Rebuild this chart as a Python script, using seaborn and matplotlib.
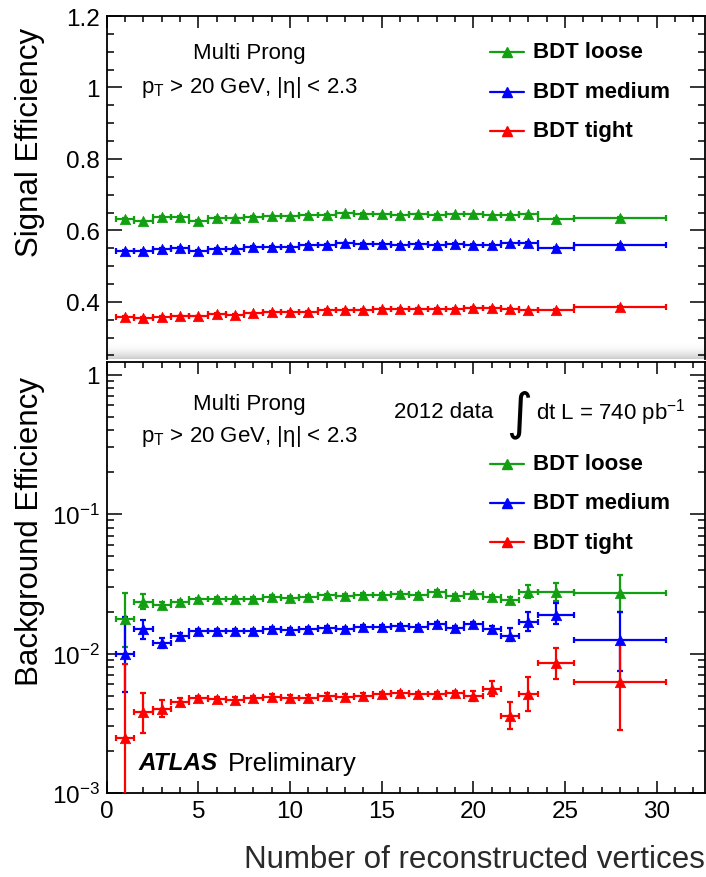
import numpy as np
import pandas as pd
import seaborn as sns
import matplotlib
matplotlib.use("Agg")
import matplotlib.pyplot as plt
from matplotlib.ticker import MultipleLocator, FixedLocator, FuncFormatter, LogLocator, NullFormatter
from matplotlib.lines import Line2D

# ---------------- data ----------------
bin_edges = [0.5, 1.5, 2.5, 3.5, 4.5, 5.5, 6.5, 7.5, 8.5, 9.5, 10.5, 11.5, 12.5,
             13.5, 14.5, 15.5, 16.5, 17.5, 18.5, 19.5, 20.5, 21.5, 22.5, 23.5,
             25.5, 30.5]

sig_loose = [0.632, 0.625, 0.637, 0.637, 0.627, 0.635, 0.634, 0.637, 0.639, 0.639,
             0.644, 0.644, 0.648, 0.646, 0.645, 0.644, 0.645, 0.644, 0.645, 0.645,
             0.642, 0.643, 0.645, 0.632, 0.635]
sig_medium = [0.543, 0.542, 0.549, 0.552, 0.543, 0.548, 0.548, 0.553, 0.554, 0.554,
              0.559, 0.559, 0.564, 0.562, 0.563, 0.559, 0.563, 0.559, 0.562, 0.560,
              0.559, 0.564, 0.565, 0.551, 0.560]
sig_tight = [0.357, 0.355, 0.357, 0.359, 0.359, 0.366, 0.363, 0.368, 0.371, 0.371,
             0.372, 0.378, 0.377, 0.378, 0.380, 0.380, 0.380, 0.381, 0.380, 0.383,
             0.383, 0.380, 0.376, 0.377, 0.385]
sig_err = [0.002, 0.002, 0.002, 0.002, 0.002, 0.002, 0.002, 0.002, 0.002, 0.002,
           0.002, 0.002, 0.002, 0.002, 0.002, 0.002, 0.002, 0.002, 0.002, 0.002,
           0.002, 0.002, 0.002, 0.003, 0.003]

bkg_loose = [0.0177, 0.0234, 0.0222, 0.0233, 0.0244, 0.0246, 0.0246, 0.0246, 0.0255, 0.0250,
             0.0255, 0.0261, 0.0258, 0.0264, 0.0264, 0.0267, 0.0264, 0.0275, 0.0260, 0.0267,
             0.0253, 0.0243, 0.0277, 0.0275, 0.0270]
bkg_loose_lo = [0.0065, 0.0024, 0.0012, 0.0009, 0.0008, 0.0008, 0.0008, 0.0008, 0.0008, 0.0008,
                0.0008, 0.0008, 0.0008, 0.0008, 0.0008, 0.0008, 0.0008, 0.0008, 0.0008, 0.0008,
                0.0010, 0.0012, 0.0027, 0.0038, 0.0070]
bkg_loose_hi = [0.0096, 0.0031, 0.0012, 0.0009, 0.0008, 0.0008, 0.0008, 0.0008, 0.0008, 0.0008,
                0.0008, 0.0008, 0.0008, 0.0008, 0.0008, 0.0008, 0.0008, 0.0008, 0.0008, 0.0008,
                0.0010, 0.0012, 0.0034, 0.0044, 0.0098]

bkg_medium = [0.0100, 0.0149, 0.0119, 0.0134, 0.0144, 0.0144, 0.0144, 0.0145, 0.0150, 0.0148,
              0.0151, 0.0152, 0.0151, 0.0155, 0.0155, 0.0157, 0.0155, 0.0162, 0.0152, 0.0162,
              0.0151, 0.0134, 0.0167, 0.0189, 0.0125]
bkg_medium_lo = [0.0047, 0.0022, 0.0009, 0.0006, 0.0005, 0.0005, 0.0005, 0.0005, 0.0005, 0.0005,
                 0.0005, 0.0005, 0.0005, 0.0005, 0.0005, 0.0005, 0.0005, 0.0005, 0.0005, 0.0006,
                 0.0006, 0.0012, 0.0022, 0.0025, 0.0050]
bkg_medium_hi = [0.0082, 0.0024, 0.0011, 0.0006, 0.0005, 0.0005, 0.0005, 0.0005, 0.0005, 0.0005,
                 0.0005, 0.0005, 0.0005, 0.0005, 0.0005, 0.0005, 0.0005, 0.0005, 0.0005, 0.0006,
                 0.0006, 0.0018, 0.0030, 0.0040, 0.0075]

bkg_tight = [0.00249, 0.00380, 0.00400, 0.00452, 0.00476, 0.00469, 0.00463, 0.00477, 0.00490, 0.00482,
             0.00482, 0.00496, 0.00490, 0.00500, 0.00509, 0.00518, 0.00509, 0.00509, 0.00518, 0.00500,
             0.00553, 0.00356, 0.00509, 0.00852, 0.00625]
bkg_tight_lo = [0.00240, 0.00110, 0.00048, 0.00030, 0.00022, 0.00022, 0.00022, 0.00022, 0.00022, 0.00022,
                0.00022, 0.00022, 0.00022, 0.00022, 0.00022, 0.00022, 0.00022, 0.00022, 0.00025, 0.00040,
                0.00060, 0.00070, 0.00120, 0.00190, 0.00340]
bkg_tight_hi = [0.00590, 0.00140, 0.00065, 0.00030, 0.00022, 0.00022, 0.00022, 0.00022, 0.00022, 0.00022,
                0.00022, 0.00022, 0.00022, 0.00022, 0.00022, 0.00022, 0.00022, 0.00022, 0.00025, 0.00040,
                0.00080, 0.00090, 0.00170, 0.00240, 0.00610]

series_names = ["BDT loose", "BDT medium", "BDT tight"]
colors = {"BDT loose": "#12a012", "BDT medium": "#0000ff", "BDT tight": "#ff0000"}

# ---------------- style ----------------
sns.set_style("ticks")
plt.rcParams["font.family"] = ["Liberation Sans", "DejaVu Sans"]
plt.rcParams["mathtext.fontset"] = "custom"
plt.rcParams["mathtext.rm"] = "Liberation Sans"
plt.rcParams["mathtext.it"] = "Liberation Sans:italic"
plt.rcParams["mathtext.bf"] = "Liberation Sans:bold"
plt.rcParams["axes.linewidth"] = 1.3
plt.rcParams["axes.edgecolor"] = "black"
plt.rcParams["text.color"] = "black"
plt.rcParams["xtick.color"] = "black"
plt.rcParams["ytick.color"] = "black"
plt.rcParams["xtick.labelcolor"] = "black"
plt.rcParams["ytick.labelcolor"] = "black"

edges = np.array(bin_edges)
centers = (edges[:-1] + edges[1:]) / 2
halfw = (edges[1:] - edges[:-1]) / 2

W, H = 706, 878
fig = plt.figure(figsize=(W / 100, H / 100), dpi=100)

def fx(px):
    return px / W

def fy(py):
    return 1 - py / H

L, R = 106.7, 704.5
ax_top = fig.add_axes([fx(L), fy(360), fx(R) - fx(L), (360 - 17) / H])
ax_bot = fig.add_axes([fx(L), fy(794), fx(R) - fx(L), (794 - 363) / H])

lw = 1.6
ms = 7.5

def draw(ax, y, ylo, yhi, name):
    c = colors[name]
    ax.errorbar(centers, y, xerr=halfw, yerr=[ylo, yhi], fmt="none", ecolor=c,
                elinewidth=lw, capsize=2.2, capthick=lw, zorder=3)
    df = pd.DataFrame({"x": centers, "y": y})
    sns.scatterplot(data=df, x="x", y="y", ax=ax, marker="^", color=c, s=ms ** 2,
                    edgecolor=c, linewidth=0.5, zorder=4, legend=False)

for name, y in zip(series_names, [sig_loose, sig_medium, sig_tight]):
    draw(ax_top, y, sig_err, sig_err, name)

for name, y, lo, hi in zip(series_names,
                           [bkg_loose, bkg_medium, bkg_tight],
                           [bkg_loose_lo, bkg_medium_lo, bkg_tight_lo],
                           [bkg_loose_hi, bkg_medium_hi, bkg_tight_hi]):
    draw(ax_bot, y, lo, hi, name)

tick_fs = 17.5
for ax in (ax_top, ax_bot):
    ax.set_xlim(0, 32.6)
    ax.xaxis.set_major_locator(MultipleLocator(5))
    ax.xaxis.set_minor_locator(MultipleLocator(1))
    ax.tick_params(which="both", direction="in", top=True, right=True, width=1.1,
                   labelsize=tick_fs, color="black", labelcolor="black")
    ax.tick_params(axis="x", which="major", length=8.5)
    ax.tick_params(axis="x", which="minor", length=4.3)
    ax.tick_params(axis="y", which="major", length=11)
    ax.tick_params(axis="y", which="minor", length=5.2)
    ax.set_xlabel("")
    ax.set_ylabel("")

# top panel
ax_top.set_ylim(0.24, 1.2)
ax_top.yaxis.set_major_locator(MultipleLocator(0.2))
ax_top.yaxis.set_minor_locator(MultipleLocator(0.05))
ax_top.yaxis.set_major_formatter(FuncFormatter(lambda v, p: "%g" % round(v, 3)))
ax_top.tick_params(axis="x", labelbottom=False, bottom=False, which="both")
ax_top.spines["bottom"].set_visible(False)
ax_top.tick_params(axis="y", pad=5)

# shading at bottom of top panel
grad = np.linspace(0, 1, 64).reshape(-1, 1) ** 2.2
ax_top.imshow(grad, extent=[0, 1, 0, 0.05], transform=ax_top.transAxes, aspect="auto",
              cmap=matplotlib.colors.LinearSegmentedColormap.from_list("g", ["#ffffff", "#cccccc"]),
              origin="upper", zorder=0.5, interpolation="bilinear")
ax_top.set_xlim(0, 32.6)
ax_top.set_ylim(0.24, 1.2)

# bottom panel
ax_bot.set_yscale("log")
ax_bot.set_ylim(1e-3, 1.23)
ax_bot.yaxis.set_major_locator(FixedLocator([1e-3, 1e-2, 1e-1, 1]))
ax_bot.yaxis.set_minor_locator(LogLocator(base=10, subs=np.arange(2, 10), numticks=20))
ax_bot.yaxis.set_minor_formatter(NullFormatter())
ax_bot.yaxis.set_major_formatter(FuncFormatter(
    lambda v, p: "1" if abs(v - 1) < 1e-9 else r"$10^{%d}$" % int(round(np.log10(v)))))
ax_bot.tick_params(axis="y", pad=5)
ax_bot.tick_params(axis="x", pad=5)

# axis titles
fig.text(fx(30), fy(142), "Signal Efficiency", rotation=90, ha="center", va="center",
         fontsize=22.5)
fig.text(fx(30), fy(531), "Background Efficiency", rotation=90, ha="center", va="center",
         fontsize=22.5)
fig.text(fx(705), fy(860), "Number of reconstructed vertices", ha="right", va="center",
         fontsize=22.5, color="#2a2a2a")

# annotations
txt_fs = 16
for y1, y2 in [(53, 88), (405, 437)]:
    fig.text(fx(249), fy(y1), "Multi Prong", ha="center", va="center", fontsize=txt_fs)
    fig.text(fx(250), fy(y2), r"p$_{\rm T}$ > 20 GeV, |η| < 2.3", ha="center", va="center",
             fontsize=txt_fs)

fig.text(fx(394), fy(413), "2012 data", ha="left", va="center", fontsize=txt_fs)
fig.text(fx(519), fy(415), "∫", ha="center", va="center", fontsize=36,
         family=["DejaVu Sans"])
fig.text(fx(536), fy(413), r"dt L = 740 pb$^{-1}$", ha="left", va="center", fontsize=txt_fs)

fig.text(fx(139), fy(764), "ATLAS", ha="left", va="center", fontsize=17.5,
         fontweight="bold", fontstyle="italic")
fig.text(fx(228), fy(764), "Preliminary", ha="left", va="center", fontsize=18.5)

# legends
def legend(rows_y):
    for name, yy in zip(series_names, rows_y):
        c = colors[name]
        fig.add_artist(Line2D([fx(490), fx(524)], [fy(yy), fy(yy)], color=c, lw=lw,
                              transform=fig.transFigure))
        fig.add_artist(Line2D([fx(507)], [fy(yy)], color=c, marker="^", ms=6.5,
                              transform=fig.transFigure))
        fig.text(fx(533), fy(yy), name, ha="left", va="center", fontsize=16,
                 fontweight="bold")

legend([53, 93, 132])
legend([465, 504, 543])

fig.savefig("out.png", dpi=100)
